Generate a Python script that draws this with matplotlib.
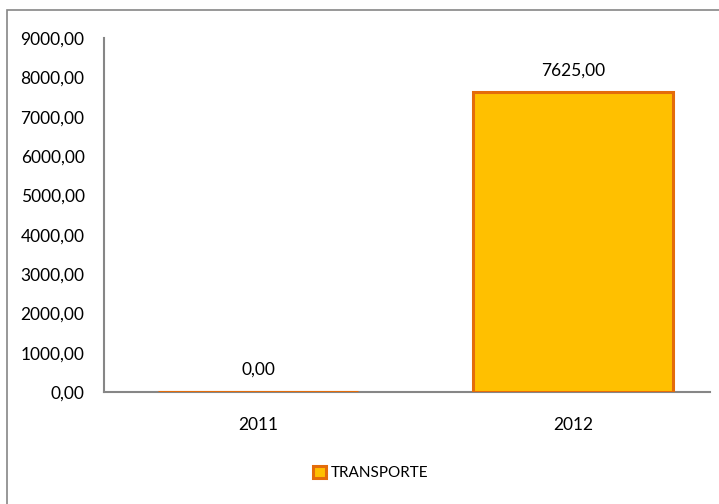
import matplotlib
matplotlib.use("Agg")
import matplotlib.pyplot as plt
from matplotlib.patches import Rectangle

categories = ["2011", "2012"]
values = [0.0, 7625.0]
series_name = "TRANSPORTE"
yticks = [0, 1000, 2000, 3000, 4000, 5000, 6000, 7000, 8000, 9000]

def fmt(v):
    return f"{v:.2f}".replace(".", ",")

plt.rcParams['font.family'] = ['Lato', 'DejaVu Sans']

fig = plt.figure(figsize=(7.19, 5.04), dpi=100)
ax = fig.add_axes([104/719, 1-392/504, (710-104)/719, (392-38)/504])

x = list(range(len(categories)))
bars = ax.bar(x, values, width=0.638, color="#FFC000", edgecolor="#E46C0A",
              linewidth=2.2, label=series_name, zorder=3)

ax.set_xlim(-0.489, 1.435)
ax.set_ylim(0, 9000)
ax.set_yticks(yticks)
ax.set_yticklabels([fmt(v) for v in yticks], fontsize=12.5)
ax.set_xticks(x)
ax.set_xticklabels(categories, fontsize=12.5)
ax.tick_params(axis='y', length=0, pad=14)
ax.tick_params(axis='x', length=0, pad=18)

for s in ["top", "right"]:
    ax.spines[s].set_visible(False)
for s in ["left", "bottom"]:
    ax.spines[s].set_color("#868686")
    ax.spines[s].set_linewidth(1.5)

for xi, v in zip(x, values):
    ax.annotate(fmt(v), (xi, v), xytext=(0, 10), textcoords="offset points",
                ha="center", va="bottom", fontsize=12.5)

leg = fig.legend(handles=[bars], labels=[series_name], loc="center",
                 bbox_to_anchor=(371/719, 1-473/504), frameon=False,
                 fontsize=11, handlelength=0.85, handleheight=0.85,
                 handletextpad=0.3)

# outer chart border
fig.patches.append(Rectangle((7/719, -0.05), 1.2, 1-10/504+0.05,
                             transform=fig.transFigure, fill=False,
                             edgecolor="#868686", linewidth=1.2))

fig.savefig("out.png", dpi=100)
